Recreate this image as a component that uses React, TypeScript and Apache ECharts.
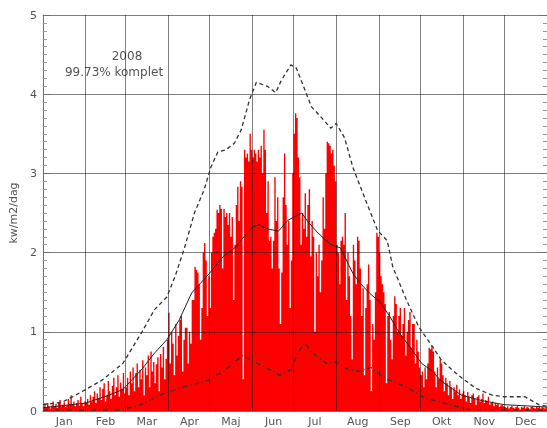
import React, { useEffect, useRef } from "react";
import * as echarts from "echarts";

const monthNames = ["Jan", "Feb", "Mar", "Apr", "Maj", "Jun", "Jul", "Aug", "Sep", "Okt", "Nov", "Dec"];
const monthLengths = [31, 29, 31, 30, 31, 30, 31, 31, 30, 31, 30, 31];

const jan = [0.05,0.08,0.04,0.1,0.06,0.03,0.07,0.12,0.05,0.09,0.04,0.1,0.14,0.06,0.08,0.11,0.05,0.07,0.15,0.09,0.2,0.08,0.12,0.06,0.1,0.14,0.07,0.18,0.1,0.06,0.12];
const feb = [0.1,0.15,0.08,0.2,0.12,0.18,0.25,0.1,0.22,0.16,0.3,0.14,0.28,0.35,0.12,0.2,0.38,0.25,0.15,0.32,0.42,0.2,0.3,0.45,0.18,0.36,0.28,0.48,0.22];
const mar = [0.3,0.42,0.2,0.5,0.35,0.55,0.25,0.48,0.6,0.3,0.52,0.4,0.64,0.2,0.55,0.45,0.7,0.3,0.75,0.5,0.62,0.35,0.59,0.68,0.25,0.72,0.55,0.81,0.4,0.66,0.9];
const apr = [1.24,0.6,1.0,0.85,0.45,1.1,0.7,0.95,1.15,1.2,0.5,0.9,1.05,1.05,0.6,1.0,0.85,1.4,1.4,1.82,1.78,1.75,1.6,0.9,1.3,2.0,2.12,1.9,1.2,1.7];
const may = [1.3,2.0,2.2,2.25,2.3,2.54,2.5,2.6,2.55,1.8,2.55,2.45,2.5,2.35,2.5,2.2,2.45,1.4,2.1,2.6,2.83,2.4,2.9,2.83,0.4,3.3,3.2,3.25,3.15,3.5,3.3];
const jun = [3.2,3.3,3.25,3.15,3.3,3.2,3.35,3.0,3.55,3.3,2.5,2.9,2.15,2.2,1.8,2.15,2.95,2.4,2.7,1.8,1.1,1.75,2.7,3.25,2.6,2.1,2.4,1.3,1.9,3.0];
const jul = [3.5,3.76,3.7,3.2,2.95,2.1,2.5,2.3,2.75,2.2,2.6,2.8,1.95,2.4,2.2,1.0,2.0,1.7,2.1,1.5,1.9,2.7,2.3,3.0,3.4,3.38,3.35,3.25,3.3,3.1,2.9];
const aug = [2.1,2.0,1.6,2.15,2.2,2.1,2.5,1.4,2.0,1.7,1.2,0.65,2.1,1.9,1.6,2.2,2.15,1.8,1.2,1.55,0.45,1.3,1.6,1.85,1.4,0.25,1.1,0.9,1.5,2.25,2.2];
const sep = [2.0,1.7,1.6,1.5,1.35,0.35,1.2,1.25,0.9,0.65,1.2,1.45,1.35,1.0,1.2,1.3,0.95,1.1,1.3,0.7,1.0,1.15,1.25,0.8,1.1,1.1,0.6,0.9,0.75,0.55];
const oct = [0.45,0.5,0.3,0.55,0.4,0.6,0.8,0.78,0.82,0.75,0.5,0.3,0.55,0.4,0.65,0.6,0.45,0.25,0.42,0.35,0.2,0.38,0.3,0.15,0.3,0.25,0.33,0.2,0.27,0.15,0.22];
const nov = [0.25,0.2,0.12,0.24,0.18,0.1,0.2,0.22,0.15,0.08,0.18,0.2,0.12,0.15,0.22,0.1,0.14,0.12,0.18,0.08,0.1,0.12,0.06,0.1,0.08,0.09,0.05,0.07,0.08,0.06];
const dec = [0.05,0.04,0.06,0.03,0.05,0.07,0.04,0.03,0.05,0.06,0.04,0.02,0.05,0.04,0.06,0.03,0.05,0.04,0.02,0.05,0.06,0.04,0.03,0.05,0.04,0.06,0.03,0.05,0.04,0.03,0.05];

// [day of year, value]
const maxLine = [[0,0.08],[14,0.11],[31,0.27],[43,0.39],[58,0.6],[72,1.0],[81,1.28],[90,1.44],[96,1.7],[103,2.07],[110,2.5],[117,2.79],[122,3.08],[127,3.27],[133,3.3],[139,3.38],[144,3.55],[150,3.93],[155,4.15],[163,4.1],[169,4.02],[173,4.17],[180,4.37],[184,4.33],[191,4.02],[195,3.84],[202,3.71],[209,3.57],[213,3.63],[219,3.45],[225,3.08],[235,2.63],[243,2.28],[250,2.15],[254,1.82],[264,1.4],[273,1.06],[283,0.81],[289,0.65],[297,0.52],[304,0.42],[314,0.29],[326,0.2],[335,0.18],[350,0.18],[360,0.08],[366,0.06]];
const meanLine = [[0,0.04],[31,0.1],[48,0.2],[58,0.27],[72,0.53],[81,0.73],[90,0.9],[99,1.15],[108,1.49],[121,1.74],[131,1.95],[140,2.07],[145,2.18],[152,2.32],[157,2.35],[163,2.3],[171,2.27],[178,2.41],[188,2.5],[192,2.4],[199,2.26],[209,2.1],[216,2.06],[225,1.74],[230,1.62],[237,1.49],[245,1.37],[252,1.19],[259,0.98],[266,0.82],[275,0.6],[283,0.5],[289,0.38],[304,0.2],[319,0.13],[335,0.08],[366,0.05]];
const minLine = [[0,0.01],[55,0.01],[70,0.07],[85,0.2],[96,0.27],[108,0.33],[120,0.39],[131,0.5],[145,0.7],[156,0.6],[165,0.52],[172,0.45],[180,0.52],[185,0.73],[190,0.86],[196,0.73],[206,0.6],[213,0.62],[222,0.52],[229,0.5],[238,0.55],[250,0.4],[264,0.3],[278,0.16],[298,0.07],[307,0.02],[366,0.01]];

const yTicks = [0, 1, 2, 3, 4, 5];
const titleYear = "2008";
const titleComplete = "99.73% komplet";
const yName = "kw/m2/dag";

export default function App() {
  const ref = useRef<HTMLDivElement>(null);
  useEffect(() => {
    if (!ref.current) return;
    const chart = echarts.init(ref.current, undefined, { renderer: "svg" });
    const values = [...jan, ...feb, ...mar, ...apr, ...may, ...jun, ...jul, ...aug, ...sep, ...oct, ...nov, ...dec];
    const days = values.map((_, i) => String(i));
    const starts: number[] = [];
    const mids: Record<number, string> = {};
    let acc = 0;
    monthLengths.forEach((len, m) => {
      starts.push(acc);
      mids[acc + Math.floor(len / 2)] = monthNames[m];
      acc += len;
    });
    const total = values.length;
    // daily bars as one stepped silhouette: day i covers [i, i+1]
    const dailySteps = values.map((v, i) => [i, v]);
    dailySteps.push([total, values[total - 1]]);
    const font = "DejaVu Sans";
    const grey = "#555";
    const axisCol = "#707070";
    const gridCol = "rgba(0,0,0,0.5)";
    const yCommon = {
      type: "value",
      min: yTicks[0],
      max: yTicks[yTicks.length - 1],
      interval: 1,
      z: 3,
      axisLine: { show: true, lineStyle: { color: axisCol, width: 1 } },
      axisTick: { show: true, inside: true, length: 8, lineStyle: { color: axisCol } },
      minorTick: { show: true, splitNumber: 10, length: 4, lineStyle: { color: "#999" } },
    };
    chart.setOption({
      animation: false,
      grid: { left: 42, top: 15, right: -4, bottom: 17, containLabel: false },
      xAxis: [
        {
          type: "category",
          data: days,
          boundaryGap: true,
          z: 3,
          axisLine: { show: true, lineStyle: { color: axisCol } },
          axisTick: { show: false },
          splitLine: {
            show: true,
            interval: (i: number) => starts.includes(i),
            lineStyle: { color: gridCol, width: 1 },
          },
          axisLabel: {
            interval: (i: number) => mids[i] !== undefined,
            formatter: (v: string) => mids[Number(v)] || "",
            color: grey,
            fontFamily: font,
            fontSize: 11,
            margin: 5,
          },
        },
        { type: "value", min: 0, max: total, show: false },
      ],
      yAxis: [
        {
          ...yCommon,
          position: "left",
          splitLine: { show: true, lineStyle: { color: gridCol, width: 1 } },
          axisLabel: { color: grey, fontFamily: font, fontSize: 11, margin: 6 },
          name: yName,
          nameLocation: "middle",
          nameGap: 22,
          nameTextStyle: { color: grey, fontFamily: font, fontSize: 11 },
        },
        {
          ...yCommon,
          position: "right",
          splitLine: { show: false },
          axisLabel: { show: false },
        },
      ],
      graphic: [
        {
          type: "text",
          x: 127,
          y: 56,
          style: { text: titleYear, fill: grey, font: `12px "${font}"`, textAlign: "center", textVerticalAlign: "middle" },
        },
        {
          type: "text",
          x: 114,
          y: 72,
          style: { text: titleComplete, fill: grey, font: `12px "${font}"`, textAlign: "center", textVerticalAlign: "middle" },
        },
      ],
      series: [
        {
          name: "daily",
          type: "line",
          xAxisIndex: 1,
          yAxisIndex: 0,
          data: dailySteps,
          step: "end",
          symbol: "none",
          lineStyle: { width: 0, color: "#ff0000" },
          areaStyle: { color: "#ff0000", opacity: 1 },
          silent: true,
          z: 1,
        },
        {
          type: "line",
          xAxisIndex: 1,
          yAxisIndex: 0,
          data: maxLine,
          symbol: "none",
          lineStyle: { color: "#333", width: 1.3, type: [4, 3] },
          z: 5,
        },
        {
          type: "line",
          xAxisIndex: 1,
          yAxisIndex: 0,
          data: meanLine,
          symbol: "none",
          lineStyle: { color: "#222", width: 1 },
          z: 5,
        },
        {
          type: "line",
          xAxisIndex: 1,
          yAxisIndex: 0,
          data: minLine,
          symbol: "none",
          lineStyle: { color: "#333", width: 1.3, type: [5, 3, 1, 3] },
          z: 5,
        },
      ],
    });
    return () => chart.dispose();
  }, []);
  return <div ref={ref} style={{ position: "fixed", left: 0, top: 0, width: 547, height: 428 }} />;
}
